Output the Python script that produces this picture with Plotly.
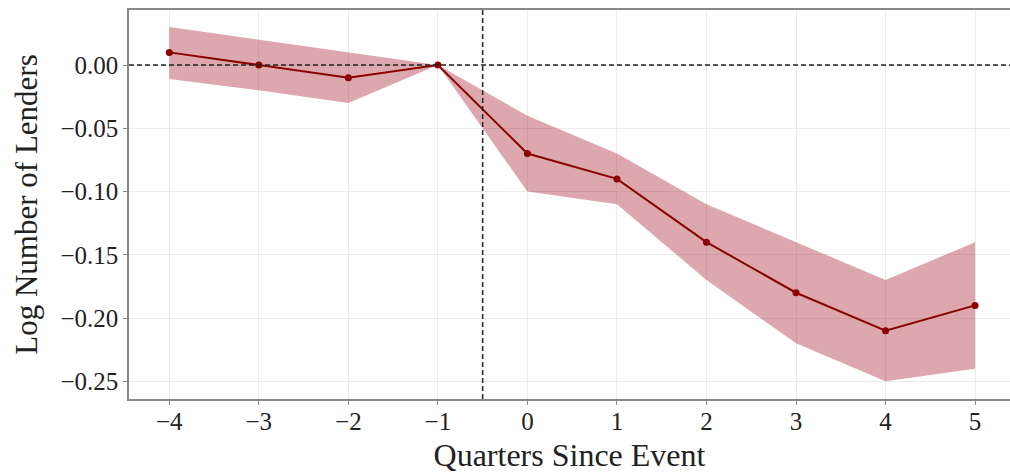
import plotly.graph_objects as go

quarters = [-4, -3, -2, -1, 0, 1, 2, 3, 4, 5]
estimate = [0.01, 0.0, -0.01, 0.0, -0.07, -0.09, -0.14, -0.18, -0.21, -0.19]
ci_upper = [0.03, 0.02, 0.01, 0.0, -0.04, -0.07, -0.11, -0.14, -0.17, -0.14]
ci_lower = [-0.011, -0.02, -0.03, 0.0, -0.10, -0.11, -0.17, -0.22, -0.25, -0.24]
y_ticks = [0.0, -0.05, -0.10, -0.15, -0.20, -0.25]
y_tick_text = ["0.00", "\u22120.05", "\u22120.10", "\u22120.15", "\u22120.20", "\u22120.25"]
x_tick_text = ["\u2212" + str(-q) if q < 0 else str(q) for q in quarters]

FONT = "Liberation Serif"

fig = go.Figure()
fig.add_trace(go.Scatter(x=quarters, y=ci_upper, mode="lines", line=dict(width=0),
                         showlegend=False, hoverinfo="skip"))
fig.add_trace(go.Scatter(x=quarters, y=ci_lower, mode="lines", line=dict(width=0),
                         fill="tonexty", fillcolor="rgba(160,20,35,0.37)",
                         showlegend=False, hoverinfo="skip"))
fig.add_trace(go.Scatter(x=quarters, y=estimate, mode="lines+markers",
                         line=dict(color="#8b0000", width=2),
                         marker=dict(color="#8b0000", size=7),
                         showlegend=False))

fig.add_hline(y=0, line=dict(color="#222", width=1.5, dash="5px,3px"))
fig.add_vline(x=-0.5, line=dict(color="#222", width=1.5, dash="5px,3px"))

fig.update_layout(
    width=1010, height=473,
    margin=dict(l=129, r=0, t=10, b=74, autoexpand=False),
    paper_bgcolor="white", plot_bgcolor="white",
    font=dict(family=FONT, color="#222"),
)
fig.update_xaxes(
    range=[-4.45, 5.39], tickmode="array", tickvals=quarters, ticktext=x_tick_text,
    tickfont=dict(size=25, family=FONT), showgrid=True, gridcolor="#ebebeb", gridwidth=1,
    zeroline=False, showline=True, linecolor="#888", linewidth=1.5, mirror=True,
    ticks="outside", ticklen=4, tickcolor="#888", automargin=False,
    ticklabelstandoff=-5,
    title=dict(text="Quarters Since Event", font=dict(size=32, family=FONT), standoff=12),
)
fig.update_yaxes(
    range=[-0.264, 0.0435], tickmode="array", tickvals=y_ticks, ticktext=y_tick_text,
    tickfont=dict(size=25, family=FONT), showgrid=True, gridcolor="#ebebeb", gridwidth=1,
    zeroline=False, showline=True, linecolor="#888", linewidth=1.5, mirror=False,
    ticks="outside", ticklen=4, tickcolor="#888", automargin=False,
    title=dict(text="Log Number of Lenders", font=dict(size=31, family=FONT), standoff=14),
)

fig.write_html("out.html", config={"displayModeBar": False},
               post_script="document.body.style.margin='0px';")
